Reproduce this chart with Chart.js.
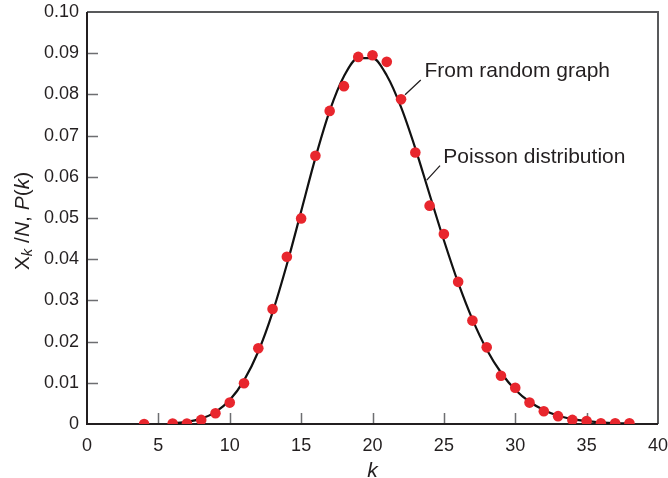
<!DOCTYPE html>
<html>
<head>
<meta charset="utf-8">
<script src="https://cdn.jsdelivr.net/npm/chart.js@4"></script>
<style>
  html, body { margin: 0; padding: 0; background: #fff; }
  #wrap { width: 668px; height: 478px; }
</style>
</head>
<body>
<div id="wrap"><canvas id="myChart"></canvas></div>
<script>
// random graph degree counts X_k/N
const graphK = [4, 6, 7, 8, 9, 10, 11, 12, 13, 14, 15, 16, 17, 18, 19, 20, 21,
                22, 23, 24, 25, 26, 27, 28, 29, 30, 31, 32, 33, 34, 35, 36, 37, 38];
const graphVals = [0.0000, 0.0001, 0.0001, 0.0010, 0.0026, 0.0052, 0.0099, 0.0184, 0.0279,
                   0.0406, 0.0499, 0.0651, 0.0760, 0.0820, 0.0891, 0.0895, 0.0879, 0.0788,
                   0.0659, 0.0530, 0.0461, 0.0345, 0.0251, 0.0186, 0.0117, 0.0088, 0.0052,
                   0.0031, 0.0019, 0.0010, 0.0007, 0.0002, 0.0002, 0.0002];

// Poisson curve P(k)
const poissonK = [6, 7, 8, 9, 10, 11, 12, 13, 14, 15, 16, 17, 18, 19, 20, 21, 22,
                  23, 24, 25, 26, 27, 28, 29, 30, 31, 32, 33, 34, 35, 36, 37, 38];
const poissonVals = [0.0002, 0.0005, 0.0013, 0.0029, 0.0058, 0.0106, 0.0176, 0.0271, 0.0387,
                     0.0516, 0.0646, 0.0760, 0.0844, 0.0888, 0.0888, 0.0846, 0.0769, 0.0669,
                     0.0557, 0.0446, 0.0343, 0.0254, 0.0181, 0.0125, 0.0083, 0.0054, 0.0034,
                     0.0020, 0.0012, 0.0007, 0.0004, 0.0002, 0.0001];

const xTicks = [0, 5, 10, 15, 20, 25, 30, 35, 40];
const yTicks = [0, 0.01, 0.02, 0.03, 0.04, 0.05, 0.06, 0.07, 0.08, 0.09, 0.10];

const labelFrom = "From random graph";
const labelPoisson = "Poisson distribution";

const ink = "#231f20";
const fontName = "'Liberation Sans', Arial, Helvetica, sans-serif";

let lineData = poissonK.map((k, i) => ({ x: k, y: poissonVals[i] }));
let dotData = graphK.map((k, i) => ({ x: k, y: graphVals[i] }));

// frame, inward ticks, y title and the two callouts
const extras = {
  id: "extras",
  beforeDatasetsDraw(chart) {
    const c = chart.ctx;
    const a = chart.chartArea;
    const xs = chart.scales.x, ys = chart.scales.y;
    c.save();
    c.strokeStyle = "#6d6e71";
    c.lineWidth = 1.5;
    c.beginPath();
    xTicks.slice(1, -1).forEach(v => {
      let px = Math.round(xs.getPixelForValue(v)) + 0.5;
      c.moveTo(px, a.bottom);
      c.lineTo(px, a.bottom - 11);
    });
    yTicks.slice(1, -1).forEach(v => {
      let py = Math.round(ys.getPixelForValue(v)) + 0.5;
      c.moveTo(a.left, py);
      c.lineTo(a.left + 11, py);
    });
    c.stroke();
    // top and right sides
    c.strokeStyle = "#58595b";
    c.lineWidth = 2;
    c.beginPath();
    c.moveTo(a.left, a.top);
    c.lineTo(a.right, a.top);
    c.lineTo(a.right, a.bottom);
    c.stroke();
    // left and bottom axes
    c.strokeStyle = ink;
    c.lineWidth = 2;
    c.beginPath();
    c.moveTo(a.left, a.top);
    c.lineTo(a.left, a.bottom);
    c.lineTo(a.right, a.bottom);
    c.stroke();
    c.restore();
  },
  afterDraw(chart) {
    const c = chart.ctx;
    const xs = chart.scales.x, ys = chart.scales.y;
    const px = v => xs.getPixelForValue(v);
    const py = v => ys.getPixelForValue(v);
    c.save();
    c.fillStyle = ink;
    c.strokeStyle = ink;
    c.lineWidth = 1.3;
    // leader lines
    c.beginPath();
    c.moveTo(px(23.38), py(0.0835));
    c.lineTo(px(22.28), py(0.0799));
    c.moveTo(px(24.73), py(0.0627));
    c.lineTo(px(23.80), py(0.0592));
    c.stroke();
    c.font = "21px " + fontName;
    c.textBaseline = "alphabetic";
    c.textAlign = "left";
    c.fillText(labelFrom, px(23.64), py(0.0842));
    c.fillText(labelPoisson, px(24.96), py(0.0633));

    // y axis title: X_k /N, P(k)
    c.translate(22, 221);
    c.rotate(-Math.PI / 2);
    const parts = [
      { t: "X", f: "21px " + fontName, dy: 0 },
      { t: "k", f: "italic 15px " + fontName, dy: 5 },
      { t: " /", f: "21px " + fontName, dy: 0 },
      { t: "N", f: "italic 21px " + fontName, dy: 0 },
      { t: ", ", f: "21px " + fontName, dy: 0 },
      { t: "P", f: "italic 21px " + fontName, dy: 0 },
      { t: "(", f: "21px " + fontName, dy: 0 },
      { t: "k", f: "italic 21px " + fontName, dy: 0 },
      { t: ")", f: "21px " + fontName, dy: 0 }
    ];
    let total = 0;
    parts.forEach(p => { c.font = p.f; total += c.measureText(p.t).width; });
    let x = -total / 2;
    c.textBaseline = "middle";
    parts.forEach(p => {
      c.font = p.f;
      c.fillText(p.t, x, p.dy + 1);
      x += c.measureText(p.t).width;
    });
    c.restore();
  }
};

const ctx = document.getElementById("myChart");
let myChart = new Chart(ctx, {
  type: "scatter",
  data: {
    datasets: [
      {
        data: lineData,
        showLine: true,
        borderColor: "#111111",
        borderWidth: 2.2,
        pointRadius: 0,
        cubicInterpolationMode: "monotone",
        order: 2
      },
      {
        data: dotData,
        showLine: false,
        backgroundColor: "#e8262d",
        borderWidth: 0,
        pointRadius: 5.3,
        order: 1
      }
    ]
  },
  options: {
    responsive: true,
    maintainAspectRatio: false,
    animation: false,
    events: [],
    layout: { padding: { top: 12, right: 10, left: 0, bottom: 0 } },
    plugins: {
      legend: { display: false },
      tooltip: { enabled: false }
    },
    scales: {
      x: {
        type: "linear",
        min: 0,
        max: 40,
        afterFit: s => {
          s.height = 54;
          s.paddingLeft = 0;
          s.paddingRight = 0;
        },
        afterBuildTicks: s => { s.ticks = xTicks.map(v => ({ value: v })); },
        grid: { display: false, drawTicks: false },
        border: { display: false },
        ticks: {
          padding: 11,
          color: ink,
          font: { family: fontName, size: 18 },
          maxRotation: 0
        },
        title: {
          display: true,
          text: "k",
          color: ink,
          padding: { top: 0, bottom: -6 },
          font: { family: fontName, size: 21, style: "italic" }
        }
      },
      y: {
        min: 0,
        max: 0.1,
        afterFit: s => {
          s.width = 87;
          s.paddingTop = 0;
          s.paddingBottom = 0;
        },
        afterBuildTicks: s => { s.ticks = yTicks.map(v => ({ value: v })); },
        grid: { display: false, drawTicks: false },
        border: { display: false },
        ticks: {
          padding: 8,
          color: ink,
          font: { family: fontName, size: 18 },
          callback: v => (v === 0 ? "0" : v.toFixed(2))
        }
      }
    }
  },
  plugins: [extras]
});
</script>
</body>
</html>
